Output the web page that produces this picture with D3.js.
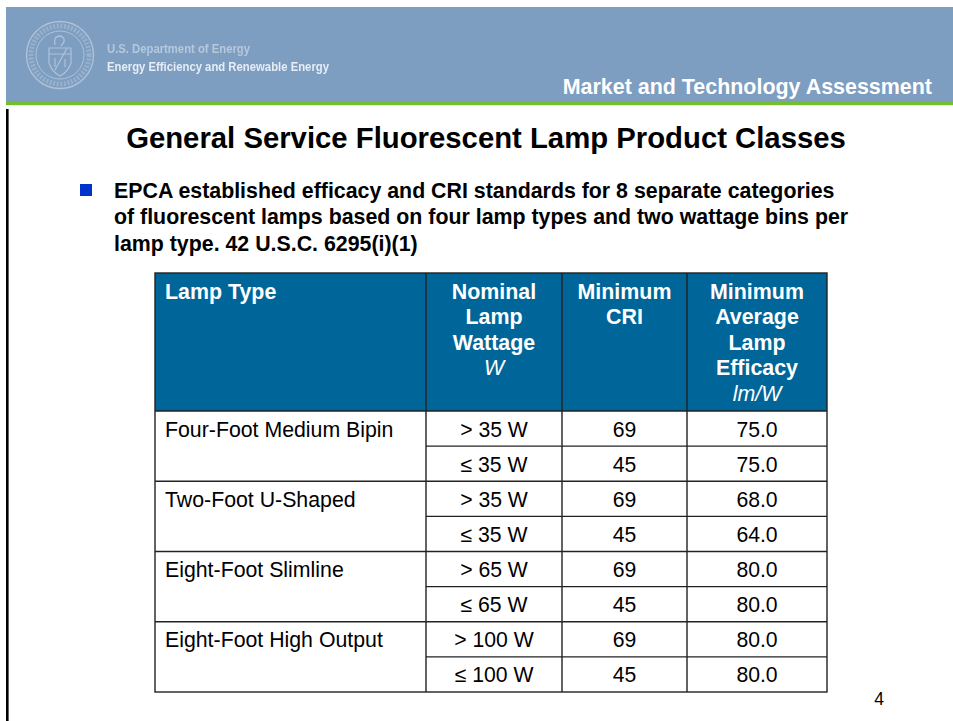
<!DOCTYPE html>
<html>
<head>
<meta charset="utf-8">
<style>
html,body{margin:0;padding:0;background:#fff;overflow:hidden}
svg{display:block}
text{font-family:"Liberation Sans",Arial,sans-serif}
</style>
<script src="https://cdn.jsdelivr.net/npm/d3@7"></script>
</head>
<body>
<svg id="slide" width="953" height="721"></svg>
<script>
var width=953
var height=721

const title="General Service Fluorescent Lamp Product Classes"
const bulletLines=[
  "EPCA established efficacy and CRI standards for 8 separate categories",
  "of fluorescent lamps based on four lamp types and two wattage bins per",
  "lamp type. 42 U.S.C. 6295(i)(1)"
]
const columns=["type","wattage","cri","efficacy"]
const headerLines=[
  [{t:"Lamp Type"}],
  [{t:"Nominal"},{t:"Lamp"},{t:"Wattage"},{t:"W",unit:true}],
  [{t:"Minimum"},{t:"CRI"}],
  [{t:"Minimum"},{t:"Average"},{t:"Lamp"},{t:"Efficacy"},{t:"lm/W",unit:true}]
]
const lampTypes=["Four-Foot Medium Bipin","Two-Foot U-Shaped","Eight-Foot Slimline","Eight-Foot High Output"]
const wattages=["> 35 W","≤ 35 W","> 35 W","≤ 35 W","> 65 W","≤ 65 W","> 100 W","≤ 100 W"]
const cri=[69,45,69,45,69,45,69,45]
const efficacy=[75.0,75.0,68.0,64.0,80.0,80.0,80.0,80.0]

const svg=d3.select("svg#slide")

// banner
const banner=svg.append("g")
banner.append("rect").attr("x",6).attr("y",7).attr("width",947).attr("height",94).attr("fill","#7d9dc1")
banner.append("rect").attr("x",6).attr("y",101).attr("width",947).attr("height",4).attr("fill","#74bd2c")
banner.append("rect").attr("x",6).attr("y",105).attr("width",947).attr("height",1).attr("fill","#e6f3d8")
svg.append("rect").attr("x",6).attr("y",109).attr("width",2.6).attr("height",612).attr("fill","#000")

// the logo is blurry in the source
const defs=svg.append("defs")
defs.append("filter").attr("id","soft").append("feGaussianBlur").attr("stdDeviation",0.5)
const seal=banner.append("g").attr("transform","translate(60,55)")
  .attr("fill","none").attr("stroke","#afc2d8").attr("filter","url(#soft)")
seal.append("circle").attr("r",33.5).attr("stroke-width",1.4)
seal.append("circle").attr("r",24).attr("stroke-width",1)
seal.append("circle").attr("r",29).attr("stroke-width",5).attr("stroke-dasharray","2 1.6").attr("stroke-opacity",0.55)
seal.append("path").attr("d","M-11,-7 L11,-7 L11,8 Q8,17 0,21 Q-8,17 -11,8 Z").attr("stroke-width",1.2)
seal.append("path").attr("d","M-11,-1 L11,-1 M7,-7 L-5,15 M-5,3 L-5,12 M5,4 L5,12").attr("stroke-width",1.2)
seal.append("path").attr("d","M-5,-10 Q-7,-19 0,-19 Q5,-18 4,-13 L1,-9").attr("stroke-width",1.3)
banner.append("text").attr("x",107).attr("y",52.5).attr("font-size",13).attr("font-weight","bold")
  .attr("textLength",143).attr("lengthAdjust","spacingAndGlyphs")
  .attr("fill","#b6c8dc").attr("filter","url(#soft)").text("U.S. Department of Energy")
banner.append("text").attr("x",107).attr("y",71).attr("font-size",13.4).attr("font-weight","bold")
  .attr("textLength",222).attr("lengthAdjust","spacingAndGlyphs")
  .attr("fill","#e6edf4").attr("filter","url(#soft)").text("Energy Efficiency and Renewable Energy")
banner.append("text").attr("x",932).attr("y",94).attr("text-anchor","end").attr("font-size",21.45).attr("font-weight","bold")
  .attr("fill","#fff").text("Market and Technology Assessment")

svg.append("text").attr("x",486).attr("y",148).attr("text-anchor","middle").attr("font-size",29.3).attr("font-weight","bold")
  .attr("fill","#000").text(title)

svg.append("rect").attr("x",80).attr("y",184).attr("width",12).attr("height",12).attr("fill","#0033cc")
svg.append("g").selectAll("text").data(bulletLines).enter().append("text")
  .attr("x",114).attr("y",(d,i)=>198+i*26.3)
  .attr("font-size",21.35).attr("font-weight","bold").attr("fill","#000").text(d=>d)

// table
const colEdges=[155,426,562,687,827]
const x=d3.scaleOrdinal().domain(columns).range(colEdges.slice(0,4))
const colWidth=d=>colEdges[columns.indexOf(d)+1]-x(d)
const y=d3.scaleBand().domain(d3.range(wattages.length)).range([411,692])
const headTop=273
const tableRight=colEdges[4]

const head=svg.append("g")
head.append("rect").attr("x",x("type")).attr("y",headTop)
  .attr("width",tableRight-x("type")).attr("height",y(0)-headTop).attr("fill","#006699")

columns.forEach((c,ci)=>{
  head.append("g").selectAll("text").data(headerLines[ci]).enter().append("text")
    .attr("x",ci==0 ? x(c)+10 : x(c)+colWidth(c)/2)
    .attr("y",(d,i)=>298.8+i*25.5)
    .attr("text-anchor",ci==0 ? "start" : "middle")
    .attr("font-size",21.4)
    .attr("font-weight",d=>d.unit ? "normal" : "bold")
    .attr("font-style",d=>d.unit ? "italic" : "normal")
    .attr("fill","#fff")
    .text(d=>d.t)
})

const cellText=(sel,col)=>sel
  .attr("x",x(col)+colWidth(col)/2)
  .attr("y",(d,i)=>y(i)+y.bandwidth()/2+8)
  .attr("text-anchor","middle")
  .attr("font-size",21.2)
  .attr("fill","#000")

const body=svg.append("g")
body.append("g").selectAll("text").data(lampTypes).enter().append("text")
  .attr("x",x("type")+10).attr("y",(d,i)=>y(i*2)+y.bandwidth()/2+8)
  .attr("font-size",21.3).attr("fill","#000").text(d=>d)
body.append("g").selectAll("text").data(wattages).enter().append("text")
  .call(cellText,"wattage").text(d=>d)
body.append("g").selectAll("text").data(cri).enter().append("text")
  .call(cellText,"cri").text(d=>d)
body.append("g").selectAll("text").data(efficacy).enter().append("text")
  .call(cellText,"efficacy").text(d=>d3.format(".1f")(d))

// grid lines, first column only breaks every second row
const grid=svg.append("g").attr("stroke","#222").attr("stroke-width",1.4).attr("fill","none")
grid.append("rect").attr("x",colEdges[0]).attr("y",headTop)
  .attr("width",tableRight-colEdges[0]).attr("height",y.range()[1]-headTop)
grid.selectAll("line.col").data(colEdges.slice(1,4)).enter().append("line").attr("class","col")
  .attr("x1",d=>d).attr("x2",d=>d).attr("y1",headTop).attr("y2",y.range()[1])
grid.selectAll("line.row").data(d3.range(wattages.length)).enter().append("line").attr("class","row")
  .attr("x1",d=>d%2==0 ? colEdges[0] : colEdges[1]).attr("x2",tableRight)
  .attr("y1",d=>y(d)).attr("y2",d=>y(d))

svg.append("text").attr("x",879).attr("y",705).attr("text-anchor","middle").attr("font-size",17.5)
  .attr("fill","#000").text("4")
</script>
</body>
</html>
